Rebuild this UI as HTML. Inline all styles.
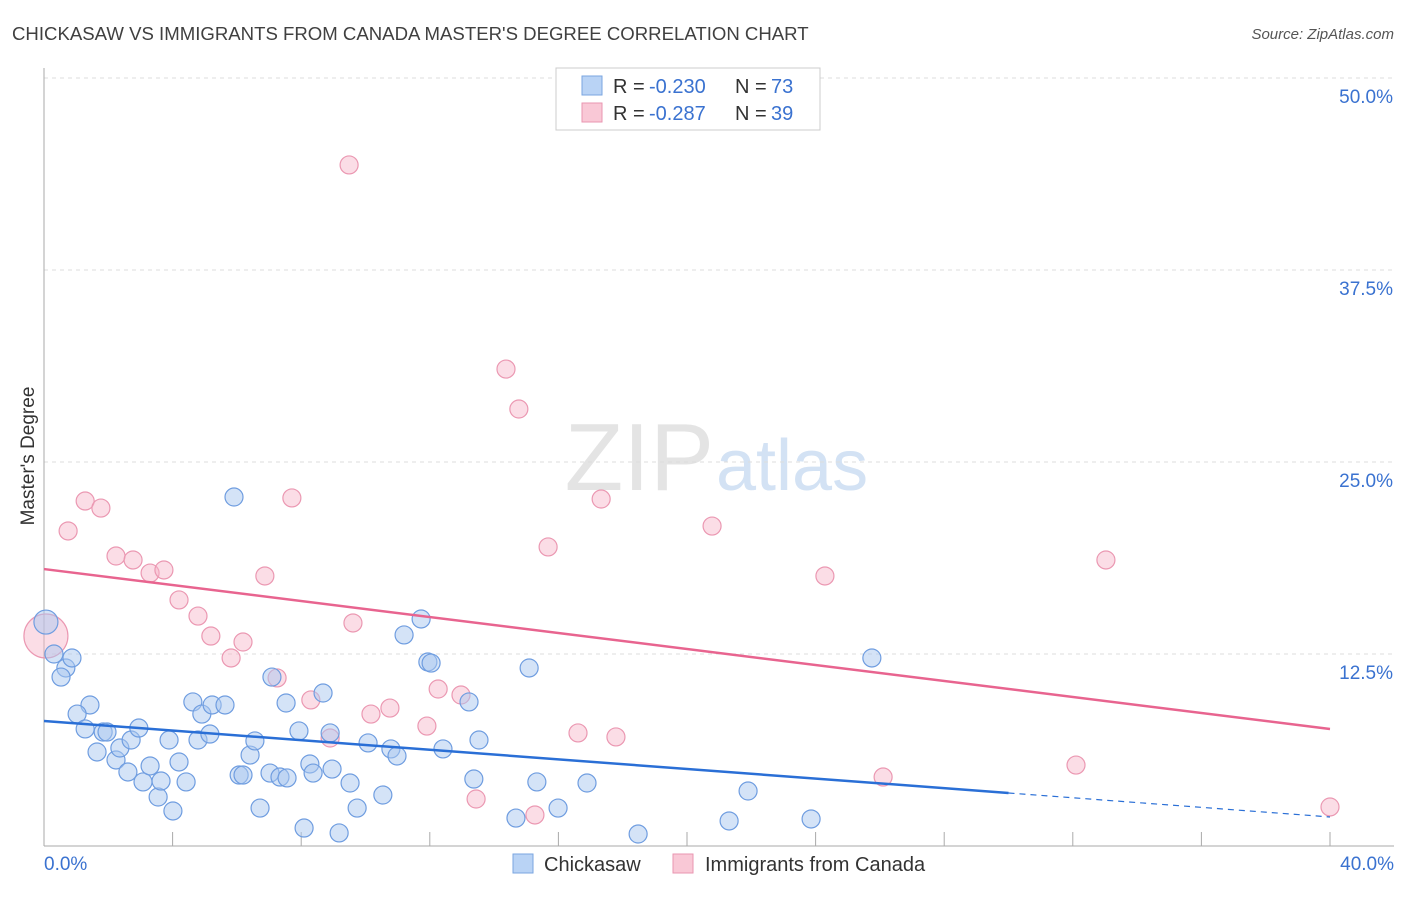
<!DOCTYPE html>
<html><head><meta charset="utf-8"><style>
body{margin:0;background:#fff;font-family:"Liberation Sans",sans-serif;}
svg text{font-family:"Liberation Sans",sans-serif;}
</style></head><body>
<svg id="chart" width="1406" height="892" xmlns="http://www.w3.org/2000/svg">
<text x="12" y="40" font-size="18.6" fill="#404040">CHICKASAW VS IMMIGRANTS FROM CANADA MASTER'S DEGREE CORRELATION CHART</text>
<text x="1394" y="39" font-size="15" fill="#555" font-style="italic" text-anchor="end">Source: ZipAtlas.com</text>
<text x="714" y="490" font-size="96" fill="#e4e4e4" text-anchor="end" font-family="Liberation Serif,serif">ZIP</text>
<text x="716" y="490" font-size="72" fill="#d3e2f4">atlas</text>
<g id="grid"></g>
<text transform="translate(34,456) rotate(-90)" font-size="19" fill="#333" text-anchor="middle">Master's Degree</text>
<g id="marks"></g>
<g>
<rect x="556" y="68" width="264" height="62" fill="#fff" stroke="#ccc"/>
<rect x="582" y="76" width="20" height="19" fill="#b9d3f5" stroke="#7aa6e0"/>
<rect x="582" y="103" width="20" height="19" fill="#f9c8d6" stroke="#e996b0"/>
<text y="93" font-size="20" fill="#333"><tspan x="613">R =</tspan><tspan x="649" fill="#3a72d0">-0.230</tspan><tspan x="735">N =</tspan><tspan x="771" fill="#3a72d0">73</tspan></text>
<text y="120" font-size="20" fill="#333"><tspan x="613">R =</tspan><tspan x="649" fill="#3a72d0">-0.287</tspan><tspan x="735">N =</tspan><tspan x="771" fill="#3a72d0">39</tspan></text>
</g>
<g>
<rect x="513" y="854" width="20" height="19" fill="#b9d3f5" stroke="#7aa6e0"/>
<text x="544" y="871" font-size="20" fill="#333">Chickasaw</text>
<rect x="673" y="854" width="20" height="19" fill="#f9c8d6" stroke="#e996b0"/>
<text x="705" y="871" font-size="20" fill="#333">Immigrants from Canada</text>
</g>
</svg>
<script>
const blueX=[0.06,0.31,0.68,0.53,0.87,1.43,1.03,1.28,1.65,1.84,1.96,2.24,2.36,2.61,2.71,2.95,3.08,3.3,3.55,3.64,3.89,4.01,4.2,4.42,4.63,4.79,4.91,5.16,5.23,5.63,5.91,6.07,6.19,6.41,6.56,6.72,7.03,7.09,7.34,7.56,7.53,7.93,8.09,8.27,8.37,8.68,8.9,8.96,9.18,9.52,9.74,10.08,10.54,10.79,10.98,11.2,11.73,11.94,12.04,12.41,13.22,13.37,13.53,14.68,15.09,15.33,15.99,16.89,18.48,21.31,21.9,23.86,25.75];
const blueY=[14.58,12.5,11.59,11.0,12.24,9.18,8.59,7.62,6.12,7.42,7.42,5.6,6.38,4.82,6.9,7.68,4.17,5.21,3.19,4.23,6.9,2.28,5.47,4.17,9.38,6.9,8.59,7.29,9.18,9.18,22.72,4.62,4.62,5.92,6.84,2.47,4.75,11.0,4.49,4.43,9.31,7.49,1.17,5.34,4.75,9.96,7.36,5.01,0.85,4.1,2.47,6.71,3.32,6.32,5.86,13.74,14.78,11.98,11.91,6.32,9.38,4.36,6.9,1.82,11.59,4.17,2.47,4.1,0.78,1.63,3.58,1.76,12.24];
const pinkX=[0.06,0.75,1.28,1.77,2.24,2.77,3.3,3.73,4.2,4.79,5.19,5.82,6.19,6.87,7.25,7.71,8.3,8.9,9.49,9.61,10.17,10.76,11.91,12.26,12.97,13.44,14.37,14.77,15.27,15.68,16.61,17.33,17.79,20.78,24.29,26.1,32.1,33.03,40.0];
const pinkY=[13.67,20.51,22.46,22.0,18.88,18.62,17.77,17.97,16.02,14.97,13.67,12.24,13.28,17.58,10.94,22.66,9.51,7.03,44.34,14.52,8.59,8.98,7.81,10.22,9.83,3.06,31.05,28.45,2.02,19.47,7.36,22.59,7.1,20.83,17.58,4.49,5.27,18.62,2.54];
const yTicks=[12.5,25,37.5,50];
const yTickLabels=["12.5%","25.0%","37.5%","50.0%"];
const xTickVals=[0,4,8,12,16,20,24,28,32,36,40];
const blueTrend=[8.14,1.89];
const blueSolidEnd=30;
const pinkTrend=[18.03,7.62];

const NS="http://www.w3.org/2000/svg";
const sx=v=>44+v*32.15;
const sy=v=>846-v*15.36;
function mk(tag,attrs,parent){const e=document.createElementNS(NS,tag);for(const k in attrs)e.setAttribute(k,attrs[k]);parent.appendChild(e);return e;}
const grid=document.getElementById('grid'), marks=document.getElementById('marks');
yTicks.forEach((t,i)=>{
  const l=mk('line',{x1:44,x2:1394,y1:sy(t),y2:sy(t),stroke:'#ddd','stroke-dasharray':'4,4'},grid);
  
  
  const tx=mk('text',{x:1393,y:sy(t)+25,'font-size':19,fill:'#3a72d0','text-anchor':'end'},grid);
  tx.textContent=yTickLabels[i];
  
  
});
let ax=mk('line',{x1:44,x2:44,y1:68,y2:846,stroke:'#aaa'},grid);


ax=mk('line',{x1:44,x2:1394,y1:846,y2:846,stroke:'#aaa'},grid);


xTickVals.forEach(v=>{
  const l=mk('line',{x1:sx(v),x2:sx(v),y1:832,y2:846,stroke:'#aaa'},grid);
  
  
});
let t=mk('text',{x:44,y:870,'font-size':19,fill:'#3a72d0'},grid);t.textContent='0.0%';


t=mk('text',{x:1394,y:870,'font-size':19,fill:'#3a72d0','text-anchor':'end'},grid);t.textContent='40.0%';



pinkX.forEach((x,i)=>{
  const c=mk('circle',{cx:sx(x),cy:sy(pinkY[i]),r:i===0?22:9,fill:'rgba(247,180,200,0.45)',stroke:'#eb98b2','stroke-width':1.2},marks);
  
  
});
blueX.forEach((x,i)=>{
  const c=mk('circle',{cx:sx(x),cy:sy(blueY[i]),r:i===0?12:9,fill:'rgba(170,200,240,0.5)',stroke:'#6f9de0','stroke-width':1.2},marks);
  
  
});
const bAt=x=>blueTrend[0]+(blueTrend[1]-blueTrend[0])*x/40;
let tl=mk('line',{x1:sx(0),y1:sy(bAt(0)),x2:sx(blueSolidEnd),y2:sy(bAt(blueSolidEnd)),stroke:'#2a6fd6','stroke-width':2.5},marks);


tl=mk('line',{x1:sx(blueSolidEnd),y1:sy(bAt(blueSolidEnd)),x2:sx(40),y2:sy(bAt(40)),stroke:'#2a6fd6','stroke-width':1.2,'stroke-dasharray':'6,5'},marks);


tl=mk('line',{x1:sx(0),y1:sy(pinkTrend[0]),x2:sx(40),y2:sy(pinkTrend[1]),stroke:'#e8648f','stroke-width':2.5},marks);


</script>
</body></html>
